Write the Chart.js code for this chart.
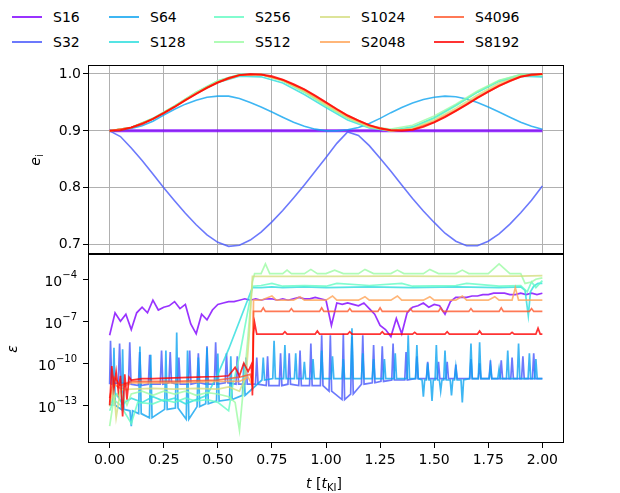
<!DOCTYPE html>
<html>
<head>
<meta charset="utf-8">
<script src="https://cdn.jsdelivr.net/npm/chart.js@4.4.0/dist/chart.umd.min.js"></script>
<style>
  body { margin: 0; background: #fff; font-family: "DejaVu Sans", sans-serif; }
  #wrap { position: relative; width: 620px; height: 493px; background: #fff; }
  .box { position: absolute; left: 0; }
  #topBox { top: 60px; }
  #botBox { top: 254px; }
  .leg { position: absolute; font-size: 14px; line-height: 16px; white-space: nowrap; color: #000; }
  .leg .ln { position: absolute; left: 0; top: 7px; width: 30px; height: 2px; }
  .leg .tx { position: absolute; left: 41px; top: 0; }
</style>
</head>
<body>
<div id="wrap">
  <div id="legend"></div>
  <div class="box" id="topBox"><canvas id="topChart" width="620" height="194"></canvas></div>
  <div class="box" id="botBox"><canvas id="botChart" width="620" height="239"></canvas></div>
</div>
<script>
// series names + rainbow colours
const seriesNames = ["S16", "S32", "S64", "S128", "S256", "S512", "S1024", "S2048", "S4096", "S8192"];
const seriesColors = [
  "rgba(128,0,255,0.8)", "rgba(71,87,251,0.8)", "rgba(14,164,240,0.8)", "rgba(43,221,221,0.8)",
  "rgba(99,251,195,0.8)", "rgba(156,251,164,0.8)", "rgba(212,221,128,0.8)", "rgba(255,164,87,0.8)",
  "rgba(255,87,44,0.8)", "rgba(255,0,0,0.8)"
];

const xTicks = [0, 0.25, 0.5, 0.75, 1, 1.25, 1.5, 1.75, 2];
const eTicks = [0.7, 0.8, 0.9, 1.0];
const errTicks = [1e-4, 1e-7, 1e-10, 1e-13];

//-------------
//- TOP PANEL: e_i -
//-------------
const tTop = [0,0.05,0.1,0.15,0.2,0.25,0.3,0.35,0.4,0.45,0.5,0.55,0.6,0.65,0.7,0.75,0.8,0.85,0.9,0.95,
  1,1.05,1.1,1.15,1.2,1.25,1.3,1.35,1.4,1.45,1.5,1.55,1.6,1.65,1.7,1.75,1.8,1.85,1.9,1.95,2];
const tTopCoarse = [0,0.1,0.2,0.3,0.4,0.5,0.6,0.7,0.8,0.9,1,1.1,1.2,1.3,1.4,1.5,1.6,1.7,1.8,1.9,2];
const tS16 = [0, 2];

const eS16 = [0.9, 0.9];
const eS32 = [0.900,0.890,0.870,0.848,0.824,0.800,0.777,0.755,0.735,0.717,0.704,0.697,0.699,0.708,0.722,0.740,0.760,0.782,0.805,0.829,
  0.853,0.878,0.898,0.892,0.874,0.852,0.829,0.805,0.781,0.759,0.739,0.720,0.706,0.698,0.698,0.706,0.719,0.736,0.756,0.778,0.803];
const eS64 = [0.900,0.901,0.904,0.909,0.917,0.928,0.938,0.947,0.954,0.959,0.961,0.961,0.957,0.950,0.942,0.933,0.924,0.915,0.908,0.903,
  0.900,0.900,0.902,0.906,0.913,0.922,0.932,0.941,0.949,0.955,0.959,0.961,0.960,0.956,0.950,0.942,0.933,0.924,0.915,0.908,0.903];
const eS128 = [0.900,0.906,0.921,0.943,0.966,0.985,0.996,0.995,0.984,0.964,0.941,0.919,0.905,0.900,0.907,0.923,0.945,0.968,0.987,0.996,0.995];
const eS256 = [0.900,0.906,0.922,0.944,0.968,0.988,0.999,0.999,0.988,0.968,0.944,0.922,0.906,0.900,0.906,0.922,0.944,0.968,0.988,0.999,0.999];
const eS512 = [0.900,0.906,0.922,0.944,0.968,0.988,0.999,0.999,0.988,0.968,0.944,0.922,0.907,0.903,0.910,0.926,0.947,0.970,0.989,0.999,0.998];
const eS1024 = [0.900,0.906,0.921,0.943,0.967,0.986,0.998,0.999,0.988,0.970,0.946,0.923,0.907,0.900,0.904,0.919,0.940,0.963,0.984,0.997,0.999];
const eS2048 = [0.900,0.906,0.921,0.943,0.966,0.986,0.998,0.999,0.989,0.971,0.948,0.925,0.908,0.900,0.903,0.917,0.937,0.960,0.981,0.996,1.000];
const eS4096 = [0.900,0.906,0.921,0.942,0.965,0.985,0.998,0.999,0.990,0.973,0.950,0.927,0.910,0.901,0.902,0.915,0.935,0.958,0.979,0.995,1.000];
const eS8192 = [0.900,0.901,0.906,0.912,0.921,0.931,0.942,0.954,0.965,0.976,0.985,0.993,0.998,1.000,0.999,0.996,0.990,0.982,0.973,0.962,
  0.950,0.938,0.927,0.918,0.910,0.904,0.901,0.900,0.902,0.907,0.915,0.924,0.935,0.946,0.958,0.969,0.979,0.988,0.995,0.999,1.000];

//-------------
//- BOTTOM PANEL: log10 of epsilon -
//-------------
const tBot = [0,0.025,0.05,0.075,0.1,0.125,0.15,0.175,0.2,0.225,
  0.25,0.275,0.3,0.325,0.35,0.375,0.4,0.425,0.45,0.475,
  0.5,0.525,0.55,0.575,0.6,0.625,0.65,0.675,0.7,0.725,
  0.75,0.775,0.8,0.825,0.85,0.875,0.9,0.925,0.95,0.975,
  1,1.025,1.05,1.075,1.1,1.125,1.15,1.175,1.2,1.225,
  1.25,1.275,1.3,1.325,1.35,1.375,1.4,1.425,1.45,1.475,
  1.5,1.525,1.55,1.575,1.6,1.625,1.65,1.675,1.7,1.725,
  1.75,1.775,1.8,1.825,1.85,1.875,1.9,1.925,1.95,1.975,2];

const errS16 = [-8.0,-6.4,-7.0,-6.5,-7.6,-6.4,-6.0,-6.4,-5.5,-6.2,
  -6.0,-5.9,-5.6,-6.1,-5.8,-7.2,-7.9,-6.5,-6.9,-6.2,
  -5.8,-5.7,-5.6,-5.6,-5.5,-5.4,-5.5,-5.4,-5.5,-5.4,
  -5.4,-5.5,-5.4,-5.5,-5.4,-5.3,-5.4,-5.4,-5.3,-5.4,
  -5.5,-7.3,-5.7,-5.8,-5.7,-5.8,-5.9,-5.7,-6.1,-6.5,
  -7.3,-7.6,-8.1,-6.8,-7.9,-6.4,-6.0,-5.9,-5.7,-6.0,
  -5.8,-5.9,-6.5,-5.6,-5.3,-5.3,-5.3,-5.2,-5.2,-5.1,
  -5.1,-5.0,-5.0,-5.0,-5.1,-5.1,-5.0,-5.1,-5.0,-5.1,-5.0];

// S32 and S64: narrow spikes on a baseline (spike time, spike level, baseline level)
const spikeT32 = [0.004,0.046,0.093,0.139,0.185,0.24,0.28,0.32,0.37,0.41,0.45,0.49,0.54,0.59,0.63,0.68,0.73,0.79,0.83,0.88,0.93,
  0.98,1.02,1.08,1.12,1.17,1.22,1.26,1.31,1.37,1.42,1.47,1.52,1.56,1.6,1.67,1.71,1.76,1.81,1.86,1.91,1.96];
const spikeS32 = [-8.4,-8.6,-8.5,-9.2,-9.4,-9.1,-9.2,-9.6,-9.1,-9.3,-8.8,-8.5,-9.3,-9.5,-9.6,-9.6,-9.5,-9.3,-9.3,-9.1,-8.6,
  -8.0,-8.0,-7.9,-8.1,-8.0,-8.7,-8.8,-8.6,-9.2,-9.5,-9.9,-9.9,-9.9,-10.1,-9.7,-10.0,-9.8,-9.8,-9.6,-9.5,-9.3];
const baseS32 = [-11.5,-11.4,-11.5,-11.6,-11.5,-11.5,-11.4,-11.5,-11.5,-11.4,-11.5,-11.5,-11.4,-11.5,-11.5,-11.5,-11.6,-11.6,-11.5,-11.6,-11.6,
  -11.6,-12.0,-12.6,-12.2,-11.5,-11.4,-11.3,-11.2,-11.2,-11.1,-11.1,-11.1,-11.1,-11.1,-11.1,-11.1,-11.1,-11.1,-11.1,-11.1,-11.1];

const spikeT64 = [0.02,0.06,0.1,0.14,0.19,0.26,0.31,0.36,0.41,0.45,0.5,0.56,0.62,0.71,0.76,0.81,0.86,0.9,0.94,0.98,
  1.03,1.08,1.12,1.17,1.22,1.27,1.32,1.38,1.42,1.45,1.47,1.49,1.51,1.53,1.55,1.58,1.6,1.63,1.67,1.71,1.76,1.8,1.84,1.89,1.94,1.97];
const spikeS64 = [-8.9,-9.0,-14.5,-8.8,-9.4,-9.1,-7.8,-9.1,-9.6,-8.9,-9.3,-9.5,-10.0,-9.6,-8.4,-8.7,-9.3,-9.9,-9.7,-9.1,
  -9.5,-9.7,-7.5,-9.3,-9.7,-9.7,-9.3,-8.0,-8.7,-12.4,-10.0,-12.7,-8.7,-12.0,-9.1,-12.3,-10.3,-12.8,-8.6,-8.5,-10.2,-10.4,-9.1,-8.6,-9.3,-9.7];
const baseS64 = [-13.0,-13.3,-13.4,-13.6,-13.9,-13.3,-13.2,-14.0,-13.1,-12.9,-12.7,-12.6,-12.3,-11.2,-11.1,-11.1,-11.1,-11.1,-11.1,-11.1,
  -11.1,-11.1,-11.1,-11.1,-11.1,-11.1,-11.1,-11.1,-11.1,-11.2,-11.2,-11.2,-11.2,-11.2,-11.2,-11.2,-11.2,-11.2,-11.1,-11.1,-11.1,-11.1,-11.1,-11.1,-11.1,-11.1];

const tErr128 = [0,0.03,0.06,0.1,0.15,0.2,0.25,0.3,0.35,0.4,0.45,0.5,0.55,0.6,0.64,0.66,
  0.7,0.75,0.8,0.9,1,1.2,1.4,1.6,1.8,1.9,1.92,1.935,1.945,1.96,1.98,2];
const errS128 = [-13.0,-12.2,-12.9,-12.5,-12.8,-12.4,-12.7,-12.5,-12.9,-12.6,-12.3,-10.8,-9.0,-7.0,-5.4,-4.6,
  -4.6,-4.55,-4.6,-4.55,-4.6,-4.55,-4.6,-4.55,-4.6,-4.55,-4.8,-6.6,-4.9,-4.5,-4.3,-4.3];

const tErr256 = [0,0.02,0.05,0.1,0.13,0.2,0.25,0.3,0.35,0.4,0.45,0.5,0.55,0.57,0.6,0.63,0.66,
  0.7,0.75,0.8,0.9,1,1.05,1.2,1.35,1.4,1.6,1.65,1.8,1.9,1.93,1.95,1.97,2];
const errS256 = [-13.4,-12.6,-13.0,-14.3,-12.8,-12.9,-12.6,-12.8,-12.5,-12.7,-12.6,-12.8,-13.4,-11.5,-9.5,-7.0,-4.5,
  -4.45,-4.3,-4.5,-4.45,-4.5,-4.3,-4.45,-4.3,-4.5,-4.45,-4.3,-4.5,-4.45,-4.9,-4.2,-4.6,-4.1];

const tErr512 = [0,0.02,0.05,0.08,0.1,0.15,0.2,0.25,0.3,0.35,0.4,0.45,0.5,0.55,0.58,0.6,0.62,0.64,0.66,0.67,
  0.7,0.72,0.74,0.8,0.82,0.84,0.9,0.93,0.96,1,1.04,1.08,1.15,1.18,1.22,1.3,1.33,1.36,
  1.45,1.48,1.52,1.6,1.63,1.66,1.75,1.8,1.85,1.9,1.92,1.95,1.97,2];
const errS512 = [-14.5,-12.5,-12.0,-13.0,-12.2,-12.0,-12.3,-12.0,-12.2,-12.0,-12.3,-12.1,-12.2,-12.4,-12.8,-14.8,-11.5,-8.0,-4.2,-3.6,
  -3.6,-2.9,-3.6,-3.6,-3.35,-3.6,-3.6,-3.3,-3.6,-3.6,-3.35,-3.6,-3.6,-3.3,-3.6,-3.6,-3.35,-3.6,
  -3.6,-3.3,-3.6,-3.6,-3.35,-3.6,-3.6,-2.9,-3.6,-3.6,-4.3,-4.2,-4.0,-3.9];

const tErr1024 = [0,0.02,0.03,0.05,0.1,0.2,0.3,0.4,0.5,0.55,0.6,0.63,0.645,0.66,0.7,1,1.3,1.6,1.9,2];
const errS1024 = [-13.1,-12.0,-13.9,-11.9,-11.85,-11.8,-11.85,-11.8,-11.85,-11.7,-12.0,-11.0,-8.0,-3.8,
  -3.8,-3.8,-3.78,-3.8,-3.78,-3.75];

const tErr2048 = [0,0.02,0.05,0.1,0.3,0.5,0.6,0.64,0.66,0.665,
  0.7,0.75,0.77,0.85,0.88,0.9,1,1.03,1.05,1.15,1.18,1.2,1.3,1.33,1.35,1.45,1.48,1.5,
  1.6,1.63,1.65,1.75,1.78,1.8,1.86,1.875,1.89,2];
const errS2048 = [-12.8,-11.5,-11.8,-11.4,-11.4,-11.3,-11.3,-11.0,-11.6,-5.5,
  -5.5,-5.2,-5.5,-5.5,-5.25,-5.5,-5.5,-5.2,-5.5,-5.5,-5.25,-5.5,-5.5,-5.2,-5.5,-5.5,-5.25,-5.5,
  -5.5,-5.2,-5.5,-5.5,-5.25,-5.5,-5.5,-4.6,-5.5,-5.5];

const tErr4096 = [0,0.02,0.05,0.1,0.3,0.5,0.6,0.65,0.66,0.665,
  0.7,0.71,0.72,0.83,0.84,0.85,0.97,0.98,0.99,1.1,1.11,1.12,1.24,1.25,1.26,1.38,1.39,1.4,
  1.52,1.53,1.54,1.66,1.67,1.68,1.8,1.81,1.82,1.94,1.95,1.96,2];
const errS4096 = [-12.5,-11.0,-11.6,-11.3,-11.3,-11.2,-11.0,-10.8,-11.5,-6.3,
  -6.3,-6.05,-6.3,-6.3,-6.1,-6.3,-6.3,-6.05,-6.3,-6.3,-6.1,-6.3,-6.3,-6.05,-6.3,-6.3,-6.1,-6.3,
  -6.3,-6.05,-6.3,-6.3,-6.1,-6.3,-6.3,-6.05,-6.3,-6.3,-6.1,-6.3,-6.3];

const tErr8192 = [0,0.01,0.02,0.03,0.04,0.05,0.06,0.07,0.08,0.09,0.1,0.15,0.2,0.3,0.4,0.5,0.55,0.58,0.6,0.62,0.64,0.655,0.66,0.665,
  0.67,0.68,0.8,0.81,0.82,0.95,0.96,0.97,1.1,1.11,1.12,1.25,1.26,1.27,1.4,1.41,1.42,1.55,1.56,1.57,
  1.7,1.71,1.72,1.85,1.86,1.87,1.97,1.98,1.99,2];
const errS8192 = [-13.0,-10.2,-11.8,-10.6,-12.0,-10.9,-13.8,-10.8,-12.6,-11.0,-11.2,-11.1,-11.1,-11.05,-11.0,-10.95,-10.9,-10.3,-10.9,-10.0,-10.6,-10.1,-12.3,-7.9,
  -7.1,-7.92,-7.92,-7.75,-7.92,-7.92,-7.7,-7.92,-7.92,-7.75,-7.92,-7.92,-7.75,-7.92,-7.92,-7.8,-7.92,-7.92,-7.75,-7.92,
  -7.92,-7.7,-7.92,-7.92,-7.8,-7.92,-7.92,-7.5,-7.92,-7.92];

// build {x,y} points
function pts(ts, vs, f) {
  return ts.map((t, i) => ({ x: t, y: f ? f(vs[i]) : vs[i] }));
}
const pow10 = (v) => Math.pow(10, v);

// each spike: baseline - peak - baseline, narrow in t
function spikePts(ts, peaks, bases) {
  const hw = 0.006;
  const out = [];
  if (ts[0] - hw > 0) out.push({ x: 0, y: pow10(bases[0]) });
  ts.forEach((t, i) => {
    out.push({ x: Math.max(t - hw, 0), y: pow10(bases[i]) });
    out.push({ x: t, y: pow10(peaks[i]) });
    out.push({ x: t + hw, y: pow10(bases[i]) });
  });
  out.push({ x: 2, y: pow10(bases[bases.length - 1]) });
  return out;
}

const topSeries = [
  [tS16, eS16], [tTop, eS32], [tTop, eS64], [tTopCoarse, eS128], [tTopCoarse, eS256],
  [tTopCoarse, eS512], [tTopCoarse, eS1024], [tTopCoarse, eS2048], [tTopCoarse, eS4096], [tTop, eS8192]
];
const botData = [
  pts(tBot, errS16, pow10),
  spikePts(spikeT32, spikeS32, baseS32),
  spikePts(spikeT64, spikeS64, baseS64),
  pts(tErr128, errS128, pow10),
  pts(tErr256, errS256, pow10),
  pts(tErr512, errS512, pow10),
  pts(tErr1024, errS1024, pow10),
  pts(tErr2048, errS2048, pow10),
  pts(tErr4096, errS4096, pow10),
  pts(tErr8192, errS8192, pow10),
];

const topSets = topSeries.map((s, i) => ({
  label: seriesNames[i],
  data: pts(s[0], s[1]),
  borderColor: seriesColors[i],
  borderWidth: i === 0 ? 3 : (i === 9 ? 2 : 1.6),
  order: 10 - i,
}));
const botSets = botData.map((d, i) => ({
  label: seriesNames[i],
  data: d,
  borderColor: seriesColors[i],
  borderWidth: 1.7,
  order: 10 - i,
}));

// legend, 5 columns x 2 rows, filled column by column
const legLeft = [12, 109, 214, 320, 434];
const legTop = [9, 34];
let legHtml = "";
seriesNames.forEach((name, i) => {
  const col = Math.floor(i / 2), row = i % 2;
  legHtml += `<div class="leg" style="left:${legLeft[col]}px;top:${legTop[row]}px">
    <span class="ln" style="background:${seriesColors[i]}"></span><span class="tx">${name}</span></div>`;
});
document.getElementById("legend").innerHTML = legHtml;

Chart.defaults.font.family = '"DejaVu Sans", sans-serif';
Chart.defaults.font.size = 14;
Chart.defaults.color = "#000";

// black box round the plot area
const framePlugin = {
  id: "frame",
  afterDatasetsDraw(chart) {
    const { ctx, chartArea: a } = chart;
    ctx.save();
    ctx.strokeStyle = "#000";
    ctx.lineWidth = 1;
    ctx.strokeRect(a.left + 0.5, a.top + 0.5, a.right - a.left - 1, a.bottom - a.top - 1);
    ctx.restore();
  },
};

const topTitle = {
  id: "topTitle",
  afterDraw(chart) {
    const ctx = chart.ctx;
    ctx.save();
    ctx.fillStyle = "#000";
    ctx.translate(35, 100);
    ctx.rotate(-Math.PI / 2);
    ctx.font = 'italic 14px "DejaVu Sans"';
    const w1 = ctx.measureText("e").width;
    ctx.font = '10px "DejaVu Sans"';
    const w2 = ctx.measureText("i").width;
    const x0 = -(w1 + w2) / 2;
    ctx.font = 'italic 14px "DejaVu Sans"';
    ctx.fillText("e", x0, 5);
    ctx.font = '10px "DejaVu Sans"';
    ctx.fillText("i", x0 + w1, 8);
    ctx.restore();
  },
};

// bottom panel: 10^n tick labels with raised exponent, plus axis titles
const botTitle = {
  id: "botTitle",
  afterDraw(chart) {
    const ctx = chart.ctx;
    const yScale = chart.scales.y;
    ctx.save();
    ctx.fillStyle = "#000";
    ctx.textBaseline = "alphabetic";
    errTicks.forEach((v) => {
      const y = yScale.getPixelForValue(v);
      const exp = "\u2212" + String(-Math.round(Math.log10(v)));
      ctx.font = '14px "DejaVu Sans"';
      const wBase = ctx.measureText("10").width;
      ctx.font = '10px "DejaVu Sans"';
      const wExp = ctx.measureText(exp).width;
      const x0 = 77 - wBase - wExp;
      ctx.font = '14px "DejaVu Sans"';
      ctx.fillText("10", x0, y + 7);
      ctx.font = '10px "DejaVu Sans"';
      ctx.fillText(exp, x0 + wBase, y - 1);
    });
    // y label
    ctx.save();
    ctx.translate(13, 95);
    ctx.rotate(-Math.PI / 2);
    ctx.font = 'italic 14px "DejaVu Sans"';
    const we = ctx.measureText("\u03B5").width;
    ctx.fillText("\u03B5", -we / 2, 4);
    ctx.restore();
    // x label: t [t_KI]
    const parts = [
      ["t", 'italic 14px "DejaVu Sans"', 0],
      [" [", '14px "DejaVu Sans"', 0],
      ["t", 'italic 14px "DejaVu Sans"', 0],
      ["KI", '10px "DejaVu Sans"', 3],
      ["]", '14px "DejaVu Sans"', 0],
    ];
    let total = 0;
    parts.forEach((p) => { ctx.font = p[1]; total += ctx.measureText(p[0]).width; });
    let x = 324 - total / 2;
    parts.forEach((p) => {
      ctx.font = p[1];
      ctx.fillText(p[0], x, 234 + p[2]);
      x += ctx.measureText(p[0]).width;
    });
    ctx.restore();
  },
};

//-------------
//- TOP CHART -
//-------------
new Chart(document.getElementById("topChart"), {
  type: "line",
  data: { datasets: topSets },
  options: {
    responsive: false,
    animation: false,
    layout: { padding: { top: 5, right: 56, bottom: 0, left: 0 } },
    plugins: { legend: { display: false }, tooltip: { enabled: false } },
    elements: { point: { radius: 0 }, line: { tension: 0 } },
    scales: {
      x: {
        type: "linear", min: -0.1, max: 2.1, bounds: "data",
        afterBuildTicks: (s) => { s.ticks = xTicks.map((v) => ({ value: v })); },
        afterFit: (s) => { s.height = 0; s.paddingLeft = 0; s.paddingRight = 0; },
        ticks: { display: false },
        grid: { color: "#b0b0b0", drawTicks: false },
        border: { display: false },
      },
      y: {
        type: "linear", min: 0.6835, max: 1.0158, bounds: "data",
        afterBuildTicks: (s) => { s.ticks = eTicks.map((v) => ({ value: v })); },
        afterFit: (s) => { s.width = 88; s.paddingTop = 0; s.paddingBottom = 0; },
        ticks: { callback: (v) => Number(v).toFixed(1), padding: 2 },
        grid: { color: "#b0b0b0", tickColor: "#000", tickLength: 5 },
        border: { display: false },
      },
    },
  },
  plugins: [framePlugin, topTitle],
});

//-------------
//- BOTTOM CHART -
//-------------
new Chart(document.getElementById("botChart"), {
  type: "line",
  data: { datasets: botSets },
  options: {
    responsive: false,
    animation: false,
    layout: { padding: { top: 0, right: 56, bottom: 0, left: 0 } },
    plugins: { legend: { display: false }, tooltip: { enabled: false } },
    elements: { point: { radius: 0 }, line: { tension: 0 } },
    scales: {
      x: {
        type: "linear", min: -0.1, max: 2.1, bounds: "data",
        afterBuildTicks: (s) => { s.ticks = xTicks.map((v) => ({ value: v })); },
        afterFit: (s) => { s.height = 50; s.paddingLeft = 0; s.paddingRight = 0; },
        ticks: { callback: (v) => Number(v).toFixed(2), padding: 4, maxRotation: 0, autoSkip: false },
        grid: { drawOnChartArea: false, tickColor: "#000", tickLength: 5 },
        border: { display: false },
      },
      y: {
        type: "logarithmic", min: Math.pow(10, -15.7), max: Math.pow(10, -2.2), bounds: "data",
        afterBuildTicks: (s) => { s.ticks = errTicks.map((v) => ({ value: v })); },
        afterFit: (s) => { s.width = 88; s.paddingTop = 0; s.paddingBottom = 0; },
        ticks: { display: false },
        grid: { drawOnChartArea: false, tickColor: "#000", tickLength: 5 },
        border: { display: false },
      },
    },
  },
  plugins: [framePlugin, botTitle],
});
</script>
</body>
</html>
